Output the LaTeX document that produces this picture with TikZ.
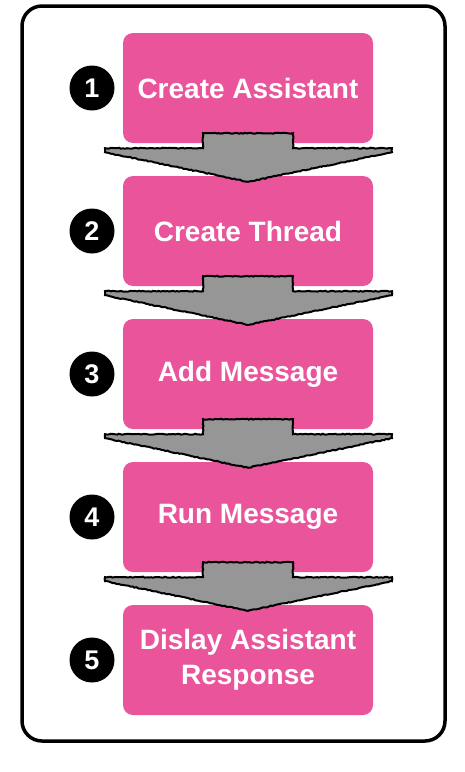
\documentclass[tikz,border=0pt]{standalone}
\usepackage{fontspec}
\setmainfont{Liberation Sans}
\usetikzlibrary{calc,decorations.pathmorphing}
\definecolor{pinkbox}{RGB}{233,84,155}
\definecolor{arrowgray}{RGB}{150,150,150}
\tikzset{
  stepbox/.style={fill=pinkbox, draw=none, rounded corners=10pt, minimum width=250pt, minimum height=110pt,
    inner sep=0pt},
  steptext/.style={text=white, font=\fontsize{28}{35}\selectfont\bfseries, align=center, inner sep=0pt},
  numdot/.style={circle, fill=black, minimum size=45pt, inner sep=0pt},
  numtext/.style={text=white, font=\fontsize{27}{30}\selectfont\bfseries, inner sep=0pt},
  blockarrow/.style={fill=arrowgray, draw=black, line width=2pt, line join=miter,
    decorate, decoration={random steps, segment length=2pt, amplitude=0.5pt}},
  frame/.style={draw=black, line width=3.5pt, rounded corners=20pt}
}
\begin{document}
\begin{tikzpicture}[x=1pt,y=-1pt]
\useasboundingbox (0,0) rectangle (464,772);
\draw[frame] (22,6) rectangle (445,741);
\foreach \i/\y in {1/88,2/231,3/374,4/517,5/660}{
  \node[stepbox] (b\i) at (248,\y) {};
  \node[numdot] (c\i) at (92,\y) {};
}
\foreach \i/\j in {1/2,2/3,3/4,4/5}{
  \path[blockarrow] ($(b\i.south)+(-45,-10)$) -- ($(b\i.south)+(45,-10)$) -- ($(b\i.south)+(45,5)$)
    -- ($(b\i.south)+(144,5)$) -- ($(b\i.south)+(144,9)$) -- ($(b\j.north)+(0,6)$)
    -- ($(b\i.south)+(-143,9)$) -- ($(b\i.south)+(-143,5)$) -- ($(b\i.south)+(-45,5)$) -- cycle;
}
\node[steptext] at (b1) {Create Assistant};
\node[steptext] at (b2) {Create Thread};
\node[steptext] at (b3) {Add Message};
\node[steptext] at (b4) {Run Message};
\node[steptext] at (b5) {Dislay Assistant\\Response};
\foreach \i in {1,...,5}{ \node[numtext] at (c\i) {\i}; }
\end{tikzpicture}
\end{document}
